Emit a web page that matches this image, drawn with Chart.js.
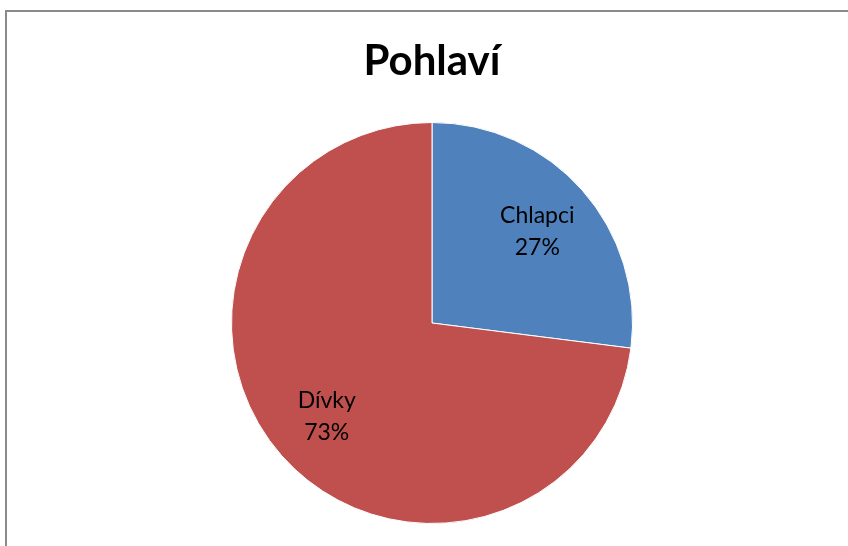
<!DOCTYPE html>
<html>
<head>
<meta charset="utf-8">
<script src="https://cdn.jsdelivr.net/npm/chart.js@4"></script>
<style>
  html, body { margin: 0; padding: 0; background: #fff; overflow: hidden; }
  #frame {
    position: absolute; left: 5px; top: 10px; width: 900px; height: 600px;
    border-left: 2px solid #8a8a8a; border-top: 2px solid #8a8a8a;
  }
  #wrap { position: absolute; left: 0; top: 0; width: 848px; height: 546px; }
</style>
</head>
<body>
<div id="frame"></div>
<div id="wrap"><canvas id="pie"></canvas></div>
<script>
const labels = ['Chlapci', 'Dívky'];
const shares = [27, 73];
const colors = ['#4F81BD', '#C0504D'];

const FONT = 'Lato, Calibri, "Open Sans", sans-serif';

// name + percent written inside each slice
const sliceLabels = {
  id: 'sliceLabels',
  afterDatasetsDraw(chart) {
    const ctx = chart.ctx;
    const meta = chart.getDatasetMeta(0);
    const total = shares.reduce((a, b) => a + b, 0);
    ctx.save();
    ctx.fillStyle = '#000';
    ctx.font = '23px ' + FONT;
    ctx.textAlign = 'center';
    ctx.textBaseline = 'middle';
    meta.data.forEach((arc, i) => {
      const p = arc.getProps(['x', 'y', 'startAngle', 'endAngle', 'outerRadius'], true);
      const mid = (p.startAngle + p.endAngle) / 2;
      const r = p.outerRadius * 0.7;
      const x = p.x + Math.cos(mid) * r;
      const y = p.y + Math.sin(mid) * r;
      ctx.fillText(labels[i], x, y - 15);
      ctx.fillText(Math.round(shares[i] / total * 100) + '%', x, y + 17);
    });
    ctx.restore();
  }
};

new Chart(document.getElementById('pie'), {
  type: 'pie',
  data: {
    labels: labels,
    datasets: [{
      data: shares,
      backgroundColor: colors,
      borderColor: '#ffffff',
      borderWidth: 1
    }]
  },
  options: {
    responsive: true,
    maintainAspectRatio: false,
    animation: false,
    layout: { padding: { left: 16, bottom: 22 } },
    plugins: {
      legend: { display: false },
      tooltip: { enabled: false },
      title: {
        display: true,
        text: 'Pohlaví',
        color: '#000',
        font: { family: FONT, size: 42, weight: 'bold', lineHeight: 1.2 },
        padding: { top: 36, bottom: 35.6 }
      }
    }
  },
  plugins: [sliceLabels]
});
</script>
</body>
</html>
